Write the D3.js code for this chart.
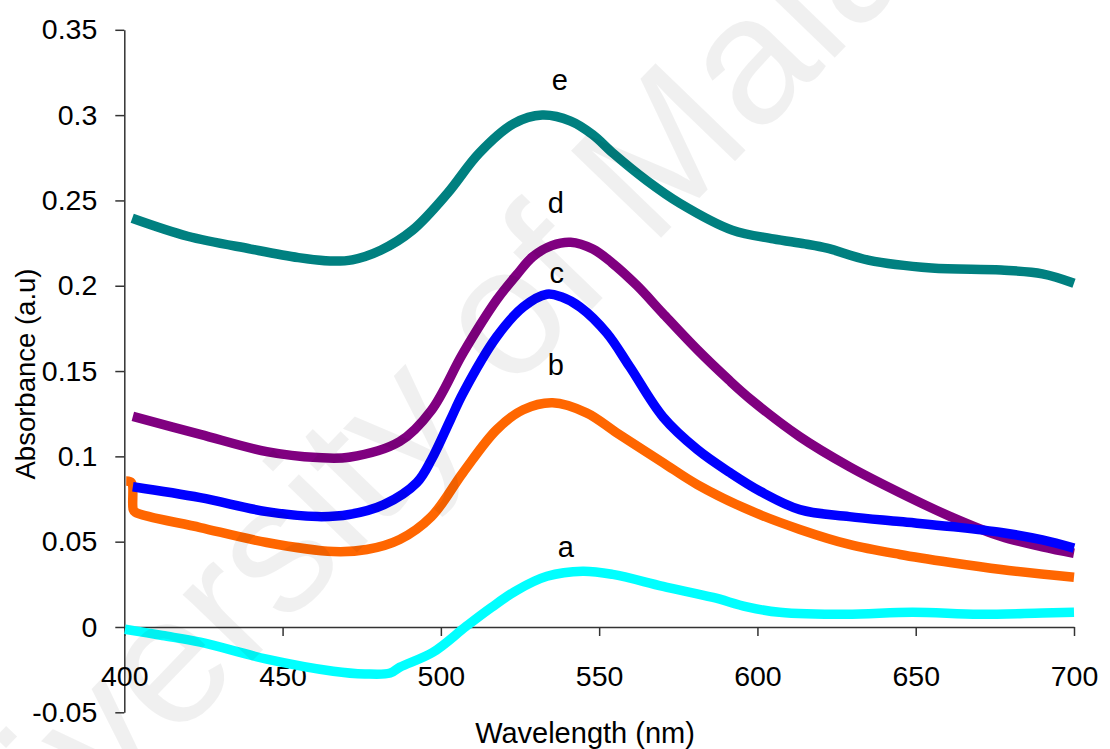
<!DOCTYPE html>
<html>
<head>
<meta charset="utf-8">
<script src="https://cdn.jsdelivr.net/npm/d3@7"></script>
<style>
  html, body { margin: 0; padding: 0; background: #fff; }
  svg { display: block; }
  text { font-family: "Liberation Sans", Arial, sans-serif; }
</style>
</head>
<body>
<svg id="chart" width="1110" height="749"></svg>
<script>
// ---- data ----
const xTicks = [400, 450, 500, 550, 600, 650, 700];
const yTicks = [-0.05, 0, 0.05, 0.1, 0.15, 0.2, 0.25, 0.3, 0.35];
const yTickLabels = ["-0.05", "0", "0.05", "0.1", "0.15", "0.2", "0.25", "0.3", "0.35"];

const seriesNames = ["e", "d", "b", "c", "a"];
const seriesColors = ["#008080", "#800080", "#ff6600", "#0000ff", "#00ffff"];

const wlE  = [402.5, 420, 440, 455, 465, 472, 481, 491, 502, 512, 523, 532, 541, 548, 554.5, 565, 575.6, 592, 605, 615, 622, 635, 655, 677, 690, 700];
const absE = [0.2395, 0.229, 0.2215, 0.2165, 0.2145, 0.2152, 0.2208, 0.2325, 0.254, 0.2775, 0.295, 0.300, 0.2965, 0.2885, 0.2775, 0.2617, 0.2482, 0.2326, 0.2275, 0.2245, 0.222, 0.215, 0.2104, 0.2092, 0.207, 0.2015];

const wlD  = [402.7, 424, 445, 461, 471, 487, 497, 507, 517.6, 524, 529, 535, 541, 548, 554, 562, 570, 581, 591, 598, 613.4, 629, 645, 661, 677, 690, 700];
const absD = [0.1234, 0.1129, 0.1028, 0.0993, 0.0995, 0.1087, 0.127, 0.1605, 0.1916, 0.2065, 0.217, 0.2235, 0.2255, 0.2215, 0.2135, 0.2, 0.184, 0.1625, 0.1447, 0.1332, 0.1115, 0.094, 0.0787, 0.0647, 0.053, 0.047, 0.0432];

const wlC  = [402.7, 424, 445, 461, 471, 482, 492.4, 497, 503, 507, 517.6, 526, 533.5, 538, 544, 552.4, 559.7, 570.2, 581, 591.3, 601, 613.4, 629, 645, 661, 677, 690, 700];
const absC = [0.0822, 0.0758, 0.0676, 0.0647, 0.0659, 0.0717, 0.0846, 0.098, 0.1214, 0.137, 0.170, 0.1875, 0.195, 0.1935, 0.1875, 0.1723, 0.1524, 0.123, 0.104, 0.0905, 0.0794, 0.0688, 0.0647, 0.0618, 0.0589, 0.0554, 0.051, 0.0462];

const wlB  = [400.6, 402.3, 402.8, 403.5, 424, 445, 466, 476.6, 487, 497, 507, 517.6, 526, 535.3, 546, 555.5, 570.2, 581, 598, 613.4, 629, 645, 661, 677, 700];
const absB = [0.0855, 0.0845, 0.069, 0.0672, 0.0583, 0.0495, 0.0442, 0.0454, 0.0513, 0.0647, 0.0905, 0.1156, 0.1273, 0.1314, 0.1255, 0.1139, 0.0963, 0.0835, 0.068, 0.0572, 0.0484, 0.0425, 0.0378, 0.0337, 0.0292];

const wlA  = [400.2, 412, 424, 445, 466, 476, 484, 487, 497.5, 508, 516, 524, 533.5, 544.8, 554.3, 570.2, 586, 596.7, 607, 628, 649, 670, 690, 700];
const absA = [-0.0013, -0.005, -0.0089, -0.0188, -0.0259, -0.0275, -0.027, -0.0236, -0.0148, 0.0004, 0.0115, 0.0215, 0.0297, 0.0327, 0.0308, 0.0238, 0.0173, 0.0118, 0.0086, 0.0074, 0.0086, 0.0074, 0.0082, 0.0086];

const seriesWl  = [wlE, wlD, wlB, wlC, wlA];
const seriesAbs = [absE, absD, absB, absC, absA];

// label anchor points (data units)
const labelText = ["e", "d", "c", "b", "a"];
const labelWl   = [537.6, 536.3, 536.6, 536.3, 539.5];
const labelAbs  = [0.3147, 0.2426, 0.2016, 0.1477, 0.041];

// ---- drawing ----
const svg = d3.select("#chart");
const x = d3.scaleLinear().domain([400, 700]).range([124.3, 1074]);
const y = d3.scaleLinear().domain([-0.05, 0.35]).range([712.3, 29.8]);
const axisColor = "#333";

// y axis
const yAxis = svg.append("g").attr("transform", `translate(${x(400)},0)`)
  .call(d3.axisLeft(y).tickValues(yTicks).tickSize(9).tickSizeOuter(0)
    .tickFormat((d, i) => yTickLabels[i]));
yAxis.select(".domain").attr("stroke", axisColor).attr("stroke-width", 1.5);
yAxis.selectAll(".tick line").attr("stroke", axisColor).attr("stroke-width", 1.5);
yAxis.selectAll(".tick text").attr("x", -27).attr("font-size", 28.5)
  .attr("font-family", "Liberation Sans, Arial, sans-serif").attr("fill", "#000");

// x axis at y = 0
const xAxis = svg.append("g").attr("transform", `translate(0,${y(0)})`)
  .call(d3.axisBottom(x).tickValues(xTicks).tickSize(9).tickSizeOuter(0).tickFormat(d3.format("d")));
xAxis.select(".domain").attr("stroke", axisColor).attr("stroke-width", 1.5);
xAxis.selectAll(".tick line").attr("stroke", axisColor).attr("stroke-width", 1.5);
xAxis.selectAll(".tick text").attr("y", 39).attr("font-size", 28.5)
  .attr("font-family", "Liberation Sans, Arial, sans-serif").attr("fill", "#000");

// curves
const line = d3.line().curve(d3.curveCatmullRom.alpha(0.5));
seriesNames.forEach((name, i) => {
  const pts = seriesWl[i].map((w, j) => [x(w), y(seriesAbs[i][j])]);
  svg.append("path")
    .attr("d", line(pts))
    .attr("fill", "none")
    .attr("stroke", seriesColors[i])
    .attr("stroke-width", 9.5)
    .attr("stroke-linejoin", "round")
    .attr("stroke-linecap", "butt");
});

// series labels
labelText.forEach((t, i) => {
  svg.append("text")
    .attr("x", x(labelWl[i]))
    .attr("y", y(labelAbs[i]))
    .attr("text-anchor", "middle")
    .attr("font-size", 29)
    .attr("fill", "#000")
    .text(t);
});

// axis titles
svg.append("text")
  .attr("x", 585).attr("y", 743)
  .attr("text-anchor", "middle")
  .attr("font-size", 29)
  .attr("fill", "#000")
  .text("Wavelength (nm)");

svg.append("text")
  .attr("transform", "translate(35,374) rotate(-90)")
  .attr("text-anchor", "middle")
  .attr("font-size", 27.5)
  .attr("fill", "#000")
  .text("Absorbance (a.u)");

// watermark
svg.append("text")
  .attr("transform", "translate(-80,1005) rotate(-46)")
  .attr("font-size", 182)
  .attr("fill", "#000")
  .attr("fill-opacity", 0.06)
  .text("University of Malaya");
</script>
</body>
</html>
